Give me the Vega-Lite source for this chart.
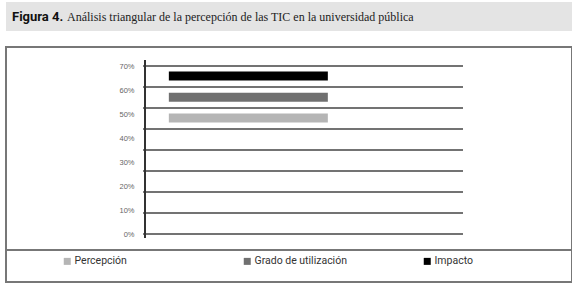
{
  "$schema": "https://vega.github.io/schema/vega-lite/v6.json",
  "padding": {"left": 4, "top": 2, "right": 2, "bottom": 3},
  "background": "white",
  "spacing": 15,
  "config": {"view": {"stroke": null}, "concat": {"spacing": 15}},
  "resolve": {"scale": {"x": "independent", "y": "independent"}},
  "datasets": {
    "series": [
      {"serie": "Percepción", "valor": 48.3},
      {"serie": "Grado de utilización", "valor": 57.0},
      {"serie": "Impacto", "valor": 65.8}
    ],
    "lineas": [
      {"nivel": 0}, {"nivel": 8.75}, {"nivel": 17.5}, {"nivel": 26.25}, {"nivel": 35},
      {"nivel": 43.75}, {"nivel": 52.5}, {"nivel": 61.25}, {"nivel": 70}
    ],
    "titulo": [
      {"etiqueta": "Figura 4.", "texto": "Análisis triangular de la percepción de las TIC en la universidad pública"}
    ]
  },
  "vconcat": [
    {
      "width": 566,
      "height": 29,
      "view": {"fill": "#e4e4e4", "stroke": null},
      "data": {"name": "titulo"},
      "layer": [
        {
          "mark": {"type": "text", "align": "left", "baseline": "middle", "dx": 6, "font": "Roboto", "fontWeight": "bold", "fontSize": 13, "color": "#111"},
          "encoding": {
            "x": {"datum": 0, "type": "quantitative", "scale": {"domain": [0, 1]}, "axis": null},
            "y": {"datum": 0.5, "type": "quantitative", "scale": {"domain": [0, 1]}, "axis": null},
            "text": {"field": "etiqueta"}
          }
        },
        {
          "mark": {"type": "text", "align": "left", "baseline": "middle", "dx": 61, "font": "Liberation Serif", "fontSize": 12, "color": "#222"},
          "encoding": {
            "x": {"datum": 0, "type": "quantitative", "scale": {"domain": [0, 1]}, "axis": null},
            "y": {"datum": 0.5, "type": "quantitative", "scale": {"domain": [0, 1]}, "axis": null},
            "text": {"field": "texto"}
          }
        }
      ]
    },
    {
      "width": 566,
      "height": 235,
      "view": {"stroke": "#777", "strokeWidth": 2, "fill": "white"},
      "layer": [
        {
          "data": {"name": "lineas"},
          "mark": {"type": "rule", "color": "#444", "strokeWidth": 1.5},
          "encoding": {
            "x": {"datum": -0.6, "type": "quantitative", "scale": {"domain": [-43.71, 134.28], "nice": false, "zero": false, "padding": 0}, "axis": null},
            "x2": {"datum": 100},
            "y": {"field": "nivel", "type": "quantitative", "scale": {"domain": [-20, 77.917], "nice": false, "zero": false, "padding": 0},
              "axis": {"values": [0, 10, 20, 30, 40, 50, 60, 70], "labelExpr": "datum.value + '%'", "offset": -139, "domain": false, "ticks": false, "grid": false, "labelOverlap": false, "labelPadding": 11, "labelFont": "Liberation Sans", "labelFontSize": 7.5, "labelColor": "#666", "title": null}}
          }
        },
        {
          "data": {"name": "lineas"},
          "mark": {"type": "rule", "color": "#333", "strokeWidth": 1.5},
          "encoding": {
            "x": {"datum": 0, "type": "quantitative", "axis": null},
            "y": {"datum": 72.5, "type": "quantitative",
              "axis": {"values": [0, 10, 20, 30, 40, 50, 60, 70], "labelExpr": "datum.value + '%'", "offset": -139, "domain": false, "ticks": false, "grid": false, "labelOverlap": false, "labelPadding": 11, "labelFont": "Liberation Sans", "labelFontSize": 7.5, "labelColor": "#666", "title": null}},
            "y2": {"datum": -1.67}
          }
        },
        {
          "data": {"name": "lineas"},
          "mark": {"type": "rule", "color": "#777", "strokeWidth": 2},
          "encoding": {
            "y": {"datum": -6.67, "type": "quantitative",
              "axis": {"values": [0, 10, 20, 30, 40, 50, 60, 70], "labelExpr": "datum.value + '%'", "offset": -139, "domain": false, "ticks": false, "grid": false, "labelOverlap": false, "labelPadding": 11, "labelFont": "Liberation Sans", "labelFontSize": 7.5, "labelColor": "#666", "title": null}}
          }
        },
        {
          "data": {"name": "series"},
          "mark": {"type": "bar", "size": 9},
          "encoding": {
            "x": {"datum": 7.5, "type": "quantitative", "axis": null},
            "x2": {"datum": 57.5},
            "y": {"field": "valor", "type": "quantitative",
              "axis": {"values": [0, 10, 20, 30, 40, 50, 60, 70], "labelExpr": "datum.value + '%'", "offset": -139, "domain": false, "ticks": false, "grid": false, "labelOverlap": false, "labelPadding": 11, "labelFont": "Liberation Sans", "labelFontSize": 7.5, "labelColor": "#666", "title": null}},
            "color": {"field": "serie", "type": "nominal",
              "scale": {"domain": ["Percepción", "Grado de utilización", "Impacto"], "range": ["#b5b5b5", "#707070", "#000000"]},
              "legend": {"orient": "none", "legendX": 56, "legendY": 254, "direction": "horizontal", "columns": 3, "gridAlign": "all", "columnPadding": 75, "title": null, "symbolType": "square", "symbolSize": 49, "symbolStrokeWidth": 0, "labelOffset": 2, "labelFont": "Roboto", "labelFontSize": 10.5, "labelColor": "#333"}}
          }
        }
      ]
    }
  ]
}
